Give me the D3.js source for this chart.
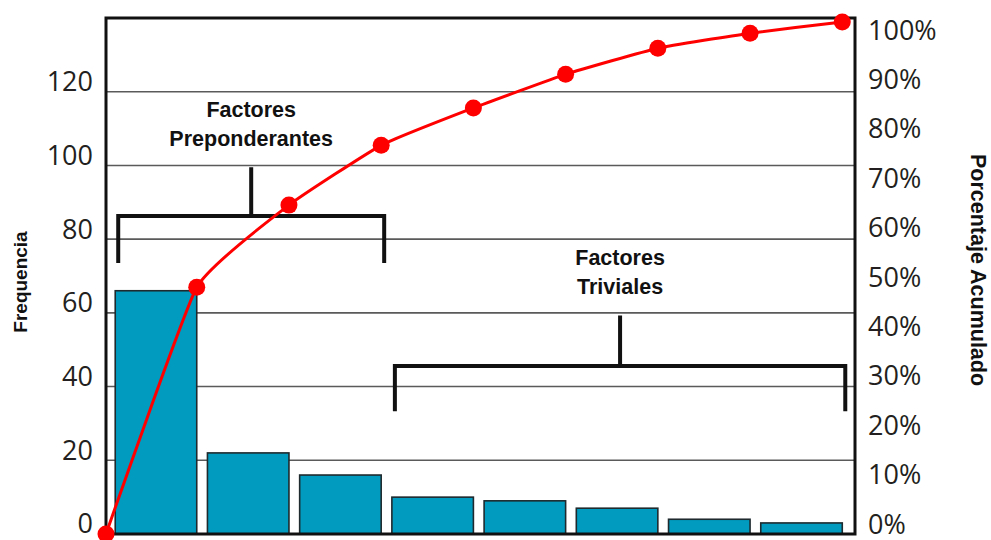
<!DOCTYPE html>
<html>
<head>
<meta charset="utf-8">
<script src="https://cdn.jsdelivr.net/npm/d3@7/dist/d3.min.js"></script>
<style>
  html, body { margin: 0; padding: 0; background: #fff; }
  svg { display: block; }
</style>
</head>
<body>
<svg id="chart" width="991" height="540"></svg>
<script>
// Pareto data: causes sorted by frequency
const categories = ["A", "B", "C", "D", "E", "F", "G", "H"];
const frequencies = [66, 22, 16, 10, 9, 7, 4, 3];
const freqTicks = [0, 20, 40, 60, 80, 100, 120];
const pctTicks = [0, 10, 20, 30, 40, 50, 60, 70, 80, 90, 100];
const groupLabels = [["Factores", "Preponderantes"], ["Factores", "Triviales"]];
const groupRanges = [[0, 2], [3, 7]];

const plot = { left: 106, right: 855, top: 18, bottom: 534 };
const svg = d3.select("#chart");

const x = d3.scaleBand().domain(categories).range([106, 851.5])
  .paddingInner(0.116).paddingOuter(0.1);
const y = d3.scaleLinear().domain([0, 140]).range([plot.bottom, plot.top]);
const yPct = d3.scaleLinear().domain([0, 100]).range([plot.bottom, 22]);
const yPctLabels = d3.scaleLinear().domain([0, 100]).range([533, 39]);

// cumulative percentage per category
const total = d3.sum(frequencies);
const cumPct = d3.cumsum(frequencies).map(v => v / total * 100);

// gridlines
svg.append("g").selectAll("line")
  .data(freqTicks.filter(t => t > 0))
  .join("line")
  .attr("x1", plot.left).attr("x2", plot.right)
  .attr("y1", d => y(d)).attr("y2", d => y(d))
  .attr("stroke", "#5a5a5a").attr("stroke-width", 1.6);

// bars
svg.append("g").selectAll("rect")
  .data(categories)
  .join("rect")
  .attr("x", d => x(d))
  .attr("y", (d, i) => y(frequencies[i]))
  .attr("width", x.bandwidth())
  .attr("height", (d, i) => y(0) - y(frequencies[i]))
  .attr("fill", "#009bbf")
  .attr("stroke", "#1e2a2e").attr("stroke-width", 1.6);

// left axis labels
const leftAxis = svg.append("g")
  .attr("transform", `translate(${plot.left},0)`)
  .call(d3.axisLeft(y).tickValues(freqTicks).tickSize(0).tickPadding(13));
leftAxis.select(".domain").remove();
leftAxis.selectAll("text")
  .attr("dy", "-0.04em")
  .attr("fill", "#231f20")
  .style("font-family", "'Open Sans', sans-serif")
  .style("font-size", "27px");

// right axis labels
const rightAxis = svg.append("g")
  .attr("transform", `translate(${plot.right},0)`)
  .call(d3.axisRight(yPctLabels).tickValues(pctTicks).tickSize(0).tickPadding(13)
    .tickFormat(d => d + "%"));
rightAxis.select(".domain").remove();
rightAxis.selectAll("text")
  .attr("dy", "0")
  .attr("fill", "#231f20")
  .style("font-family", "'Open Sans', sans-serif")
  .style("font-size", "27px");

// frame
svg.append("rect")
  .attr("x", plot.left).attr("y", plot.top)
  .attr("width", plot.right - plot.left).attr("height", plot.bottom - plot.top)
  .attr("fill", "none").attr("stroke", "#111").attr("stroke-width", 3);

// group brackets
const brackets = [
  { top: 99.5, bar: 86.3, end: 73.5 },
  { top: 59.3, bar: 45.6, end: 33.3 }
];
const bg = svg.append("g");
groupRanges.forEach((r, k) => {
  const x0 = x(categories[r[0]]) + 3;
  const x1 = x(categories[r[1]]) + x.bandwidth() + 3;
  const xm = (x0 + x1) / 2;
  const b = brackets[k];
  const p = d3.path();
  p.moveTo(x0, y(b.end)); p.lineTo(x0, y(b.bar)); p.lineTo(x1, y(b.bar)); p.lineTo(x1, y(b.end));
  p.moveTo(xm, y(b.bar)); p.lineTo(xm, y(b.top));
  bg.append("path").attr("d", p.toString())
    .attr("fill", "none").attr("stroke", "#111").attr("stroke-width", 4)
    .attr("stroke-linejoin", "miter");
  const t = bg.append("text")
    .attr("text-anchor", "middle")
    .attr("fill", "#111")
    .style("font-family", "'Liberation Sans', Arial, sans-serif")
    .style("font-weight", "bold")
    .style("font-size", "21.5px");
  groupLabels[k].forEach((s, j) => {
    t.append("tspan").attr("x", xm)
      .attr("y", y(b.top) - 21 - (groupLabels[k].length - 1 - j) * 29)
      .text(s);
  });
});

// cumulative line
const pts = [{ x: plot.left, v: 0 }].concat(categories.map((c, i) => ({ x: x(c) + x.bandwidth(), v: cumPct[i] })));
svg.append("path")
  .datum(pts)
  .attr("d", d3.line().x(d => d.x).y(d => yPct(d.v)).curve(d3.curveCardinal.tension(0.6)))
  .attr("fill", "none").attr("stroke", "#ff0000").attr("stroke-width", 3);
svg.append("g").selectAll("circle")
  .data(pts)
  .join("circle")
  .attr("cx", d => d.x).attr("cy", d => yPct(d.v))
  .attr("r", 8.5).attr("fill", "#ff0000");

// axis titles
svg.append("text")
  .attr("transform", "translate(27,282) rotate(-90)")
  .attr("text-anchor", "middle")
  .attr("fill", "#111")
  .style("font-family", "'Liberation Sans', Arial, sans-serif")
  .style("font-weight", "bold").style("font-size", "19px")
  .text("Frequencia");
svg.append("text")
  .attr("transform", "translate(971,270) rotate(90)")
  .attr("text-anchor", "middle")
  .attr("fill", "#111")
  .style("font-family", "'Liberation Sans', Arial, sans-serif")
  .style("font-weight", "bold").style("font-size", "21.5px")
  .text("Porcentaje Acumulado");
</script>
</body>
</html>
